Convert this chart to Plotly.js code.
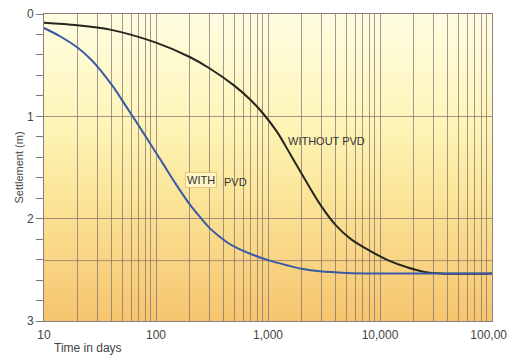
<!DOCTYPE html>
<html>
<head>
<meta charset="utf-8">
<script src="https://cdn.plot.ly/plotly-3.0.1.min.js"></script>
<style>html,body{margin:0;padding:0;background:#fff;}#chart{width:507px;height:357px;}</style>
</head>
<body>
<div id="chart"></div>
<script>
// Time in days (log axis) and settlement in metres
const withoutDays = [10, 20, 40, 100, 200, 300, 500, 700, 900, 1200, 1600, 2200, 3000, 4000, 5500, 8000, 12000, 18000, 25000, 35000, 100000];
const withoutSettle = [0.085, 0.11, 0.155, 0.28, 0.42, 0.53, 0.70, 0.84, 0.97, 1.15, 1.38, 1.64, 1.88, 2.06, 2.20, 2.31, 2.41, 2.48, 2.52, 2.535, 2.535];
const withDays = [10, 14, 20, 26, 32, 42, 55, 70, 88, 115, 150, 200, 250, 300, 373, 450, 550, 740, 1000, 1470, 2000, 2900, 5000, 10000, 100000];
const withSettle = [0.137, 0.22, 0.33, 0.44, 0.55, 0.72, 0.915, 1.09, 1.26, 1.46, 1.66, 1.86, 1.99, 2.09, 2.18, 2.245, 2.295, 2.355, 2.405, 2.455, 2.49, 2.515, 2.53, 2.535, 2.535];

const xGridVals = [];
for (let d = 10; d <= 100000; d *= 10) { for (let m = 1; m <= 9; m++) { if (d * m <= 100000) xGridVals.push(d * m); } }
const xDecadeLabels = {10: '10', 100: '100', 1000: '1,000', 10000: '10,000', 100000: '100,000'};
const xTickText = xGridVals.map(v => xDecadeLabels[v] || '');
const yTickVals = [0, 1, 2, 3];
const extraLineY = 2.41;

const gridColor = 'rgba(128,108,112,0.7)';
const font = 'Liberation Sans, Arial, sans-serif';

const svg = "<svg xmlns='http://www.w3.org/2000/svg' width='100' height='100' preserveAspectRatio='none'><defs><linearGradient id='g' x1='0' y1='0' x2='0' y2='1'><stop offset='0' stop-color='#fffde2'/><stop offset='0.35' stop-color='#fdf5b8'/><stop offset='0.6' stop-color='#fbe598'/><stop offset='1' stop-color='#f6c46e'/></linearGradient></defs><rect width='100' height='100' fill='url(#g)'/></svg>";
const bgSrc = 'data:image/svg+xml;charset=utf-8,' + encodeURIComponent(svg);

const traces = [
  {x: withoutDays, y: withoutSettle, mode: 'lines', line: {color: '#26261c', width: 2, shape: 'spline', smoothing: 1}, name: 'WITHOUT PVD', hoverinfo: 'skip'},
  {x: withDays, y: withSettle, mode: 'lines', line: {color: '#3a5aa6', width: 2, shape: 'spline', smoothing: 1}, name: 'WITH PVD', hoverinfo: 'skip'}
];

const layout = {
  width: 507, height: 357,
  margin: {l: 44, r: 15, t: 14, b: 36},
  paper_bgcolor: '#ffffff',
  plot_bgcolor: 'rgba(0,0,0,0)',
  showlegend: false,
  font: {family: font, size: 11, color: '#444'},
  images: [{source: bgSrc, xref: 'paper', yref: 'paper', x: 0, y: 1, sizex: 1, sizey: 1, xanchor: 'left', yanchor: 'top', sizing: 'stretch', layer: 'below'}],
  xaxis: {
    type: 'log', range: [1, 5],
    tickmode: 'array', tickvals: xGridVals, ticktext: xTickText,
    showgrid: true, gridcolor: gridColor, gridwidth: 1,
    ticks: '', showline: true, linecolor: '#8a8080', linewidth: 1, mirror: true,
    ticklabeloverflow: 'allow', ticklabelstandoff: 3,
    tickfont: {family: font, size: 12, color: '#444'}, zeroline: false
  },
  yaxis: {
    range: [3, 0],
    tickmode: 'array', tickvals: yTickVals,
    showgrid: true, gridcolor: gridColor, gridwidth: 1,
    ticks: 'outside', ticklen: 7, tickcolor: '#777', tickwidth: 1,
    minor: {dtick: 0.2, ticks: 'outside', ticklen: 7, tickcolor: '#777', tickwidth: 1, showgrid: false},
    showline: true, linecolor: '#8a8080', linewidth: 1, mirror: true,
    tickfont: {family: font, size: 12, color: '#444'}, zeroline: false,
    title: {text: 'Settlement (m)', font: {family: font, size: 11, color: '#444'}, standoff: 1}
  },
  shapes: [{type: 'line', xref: 'paper', x0: 0, x1: 1, yref: 'y', y0: extraLineY, y1: extraLineY, line: {color: gridColor, width: 1}, layer: 'below'}],
  annotations: [
    {text: 'WITHOUT PVD', x: 3.518, y: 1.24, xref: 'x', yref: 'y', showarrow: false, font: {family: font, size: 11, color: '#333'}},
    {text: 'WITH', x: 2.402, y: 1.62, xref: 'x', yref: 'y', showarrow: false, bgcolor: '#fff6c8', bordercolor: '#f1c27a', borderwidth: 1, borderpad: 1, font: {family: font, size: 11, color: '#333'}},
    {text: 'PVD', x: 2.714, y: 1.64, xref: 'x', yref: 'y', showarrow: false, font: {family: font, size: 11, color: '#333'}},
    {text: 'Time in days', xref: 'paper', yref: 'paper', x: 0.018, y: -0.088, xanchor: 'left', yanchor: 'middle', showarrow: false, font: {family: font, size: 12, color: '#444'}}
  ]
};

Plotly.newPlot('chart', traces, layout, {staticPlot: true, displayModeBar: false});
</script>
</body>
</html>
